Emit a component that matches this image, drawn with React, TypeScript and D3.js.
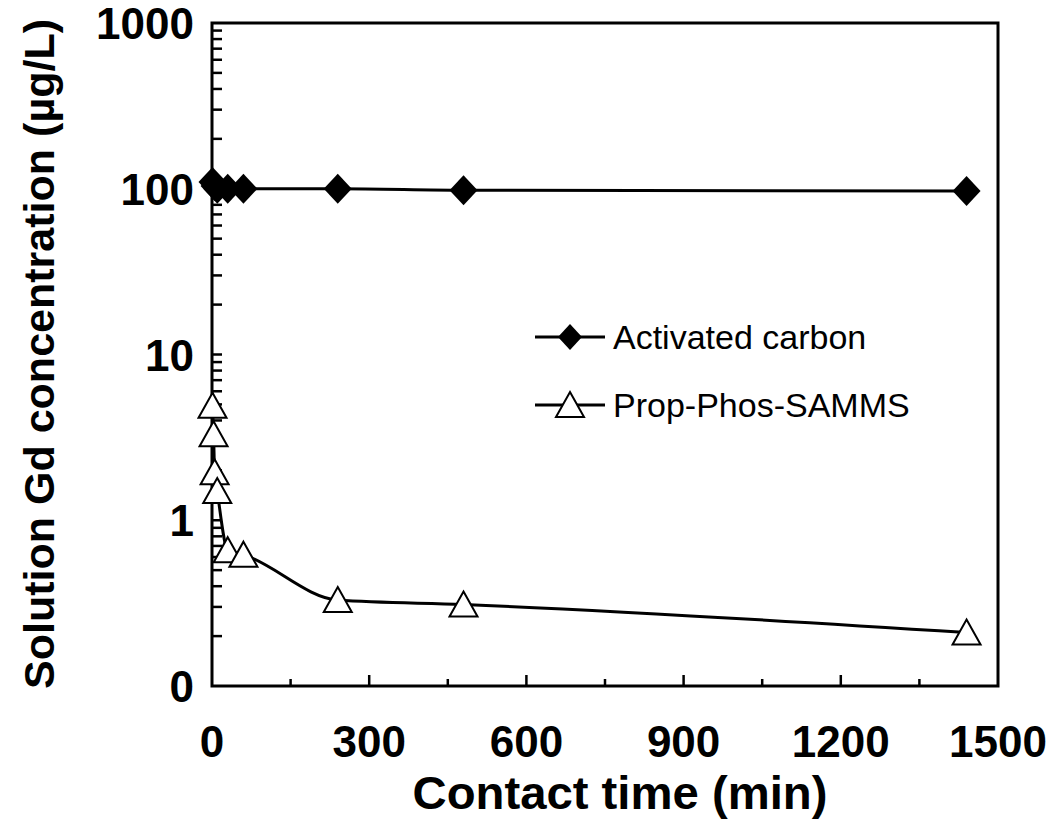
import React, { useEffect, useRef } from "react";
import * as d3 from "d3";

// contact time (min) and Gd concentration (ug/L)
const carbonTimes = [1, 5, 10, 30, 60, 240, 480, 1440];
const carbonValues = [110, 104, 100, 100, 100, 100, 98, 97];

const sammsTimes = [1, 3, 5, 10, 30, 60, 240, 480, 1440];
const sammsValues = [4.9, 3.3, 1.95, 1.5, 0.66, 0.62, 0.33, 0.31, 0.21];

const xTicks = [0, 300, 600, 900, 1200, 1500];
const yTicks = [0.1, 1, 10, 100, 1000];
const yTickLabels = ["0", "1", "10", "100", "1000"];

const seriesNames = ["Activated carbon", "Prop-Phos-SAMMS"];

const W = 1050;
const H = 822;
const margin = { top: 23, right: 52, bottom: 136, left: 212 };
const font = "'Liberation Sans', Arial, sans-serif";

function App() {
  const svgRef = useRef<SVGSVGElement>(null);

  useEffect(() => {
    const svg = d3.select(svgRef.current);
    svg.selectAll("*").remove();

    const iw = W - margin.left - margin.right;
    const ih = H - margin.top - margin.bottom;

    const x = d3.scaleLinear().domain([0, 1500]).range([0, iw]);
    const y = d3.scaleLog().domain([0.1, 1000]).range([ih, 0]);

    const g = svg
      .append("g")
      .attr("transform", `translate(${margin.left},${margin.top})`);

    // minor y ticks (inward)
    const yMinor: number[] = [];
    [0.1, 1, 10, 100].forEach((d) => {
      for (let k = 1; k <= 9; k++) yMinor.push(d * k);
    });
    g.append("g")
      .selectAll("line")
      .data(yMinor.filter((v) => v > 0.1))
      .join("line")
      .attr("x1", 0)
      .attr("x2", 10)
      .attr("y1", (d) => y(d))
      .attr("y2", (d) => y(d))
      .attr("stroke", "#000")
      .attr("stroke-width", 2.5);

    // x ticks (inward), minor every 150
    const xMinor = d3.range(150, 1500, 150);
    g.append("g")
      .selectAll("line")
      .data(xMinor)
      .join("line")
      .attr("x1", (d) => x(d))
      .attr("x2", (d) => x(d))
      .attr("y1", ih)
      .attr("y2", (d) => (d % 300 === 0 ? ih - 11 : ih - 7))
      .attr("stroke", "#000")
      .attr("stroke-width", 2.5);

    // frame
    g.append("rect")
      .attr("width", iw)
      .attr("height", ih)
      .attr("fill", "none")
      .attr("stroke", "#000")
      .attr("stroke-width", 3);

    // tick labels
    g.append("g")
      .selectAll("text")
      .data(xTicks)
      .join("text")
      .attr("x", (d) => x(d))
      .attr("y", ih + 71)
      .attr("text-anchor", "middle")
      .attr("font-family", font)
      .attr("font-weight", "bold")
      .attr("font-size", 44)
      .text((d) => d);

    g.append("g")
      .selectAll("text")
      .data(yTicks)
      .join("text")
      .attr("x", -18)
      .attr("y", (d) => y(d) + 16)
      .attr("text-anchor", "end")
      .attr("font-family", font)
      .attr("font-weight", "bold")
      .attr("font-size", 44)
      .text((d, i) => yTickLabels[i]);

    // axis titles
    svg
      .append("text")
      .attr("x", 620)
      .attr("y", 809)
      .attr("text-anchor", "middle")
      .attr("font-family", font)
      .attr("font-weight", "bold")
      .attr("font-size", 47)
      .attr("textLength", 415)
      .attr("lengthAdjust", "spacingAndGlyphs")
      .text("Contact time (min)");

    svg
      .append("text")
      .attr("transform", `translate(54,354) rotate(-90)`)
      .attr("text-anchor", "middle")
      .attr("font-family", font)
      .attr("font-weight", "bold")
      .attr("font-size", 43)
      .attr("textLength", 670)
      .attr("lengthAdjust", "spacingAndGlyphs")
      .text("Solution Gd concentration (µg/L)");

    const line = d3
      .line<[number, number]>()
      .x((d) => x(d[0]))
      .y((d) => y(d[1]))
      .curve(d3.curveMonotoneX);

    const carbon: [number, number][] = carbonTimes.map((t, i) => [t, carbonValues[i]]);
    const samms: [number, number][] = sammsTimes.map((t, i) => [t, sammsValues[i]]);

    g.append("path")
      .datum(carbon)
      .attr("d", line)
      .attr("fill", "none")
      .attr("stroke", "#000")
      .attr("stroke-width", 3);

    g.append("path")
      .datum(samms)
      .attr("d", line)
      .attr("fill", "none")
      .attr("stroke", "#000")
      .attr("stroke-width", 3);

    const diamond = "M0,-15L14,0L0,15L-14,0Z";
    const triangle = "M0,-13L14,12L-14,12Z";

    g.append("g")
      .selectAll("path")
      .data(carbon)
      .join("path")
      .attr("d", diamond)
      .attr("transform", (d) => `translate(${x(d[0])},${y(d[1])})`)
      .attr("fill", "#000");

    g.append("g")
      .selectAll("path")
      .data(samms)
      .join("path")
      .attr("d", triangle)
      .attr("transform", (d) => `translate(${x(d[0])},${y(d[1])})`)
      .attr("fill", "#fff")
      .attr("stroke", "#000")
      .attr("stroke-width", 2);

    // legend
    const legend = svg.append("g").attr("transform", "translate(535,337)");
    seriesNames.forEach((name, i) => {
      const row = legend.append("g").attr("transform", `translate(0,${i * 68})`);
      row
        .append("line")
        .attr("x1", 0)
        .attr("x2", 70)
        .attr("stroke", "#000")
        .attr("stroke-width", 3);
      row
        .append("path")
        .attr("d", i === 0 ? "M0,-13L12,0L0,13L-12,0Z" : triangle)
        .attr("transform", "translate(35,0)")
        .attr("fill", i === 0 ? "#000" : "#fff")
        .attr("stroke", i === 0 ? "none" : "#000")
        .attr("stroke-width", 2);
      row
        .append("text")
        .attr("x", 78)
        .attr("y", 12)
        .attr("font-family", font)
        .attr("font-size", 34)
        .text(name);
    });
  }, []);

  return (
    <svg
      ref={svgRef}
      width={W}
      height={H}
      style={{ position: "absolute", left: 0, top: 0, background: "#fff" }}
    />
  );
}

export default App;
